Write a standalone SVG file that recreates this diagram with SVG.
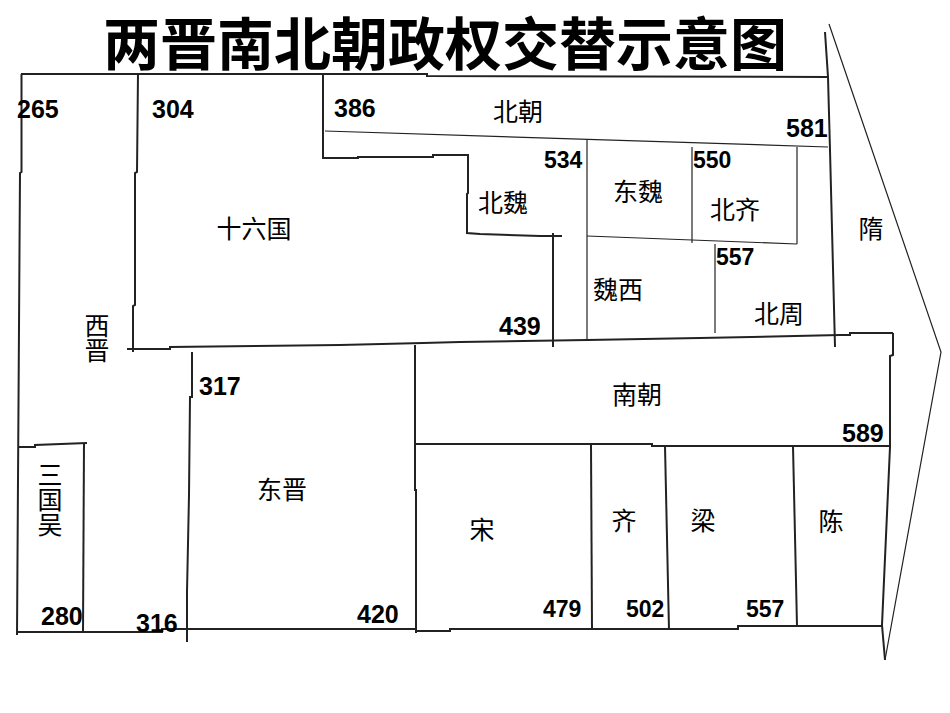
<svg xmlns="http://www.w3.org/2000/svg" width="950" height="713" viewBox="0 0 950 713">
<style>
.thick{fill:none;stroke:#222;stroke-width:2;stroke-linejoin:miter}
.thin{fill:none;stroke:#222;stroke-width:1.2}
.num{font-family:"Liberation Sans",Arial,sans-serif;font-weight:bold;fill:#000}
.n25{font-size:25px}
.n23{font-size:23px}
.cjk{font-family:"Noto Sans CJK SC","Noto Sans CJK TC",sans-serif;font-size:25px;fill:#000;text-anchor:middle}
.vert{writing-mode:vertical-rl;text-anchor:middle}
.title{font-family:"Noto Sans CJK SC","Noto Sans CJK TC",sans-serif;font-size:57px;font-weight:bold;fill:#000;text-anchor:middle}
</style>
<rect width="950" height="713" fill="#fff"/>
<text class="title" x="445" y="65">两晋南北朝政权交替示意图</text>

<g id="connectors">
  <path class="thick" d="M21,74 L427,74 L427,76 L828,77"/>
  <path class="thick" d="M21.5,74 L21.5,172 L20,173 L17,635"/>
  <path class="thick" d="M138,73 L137,172 L135,173 L135,305 L133,306 L133,352"/>
  <path class="thick" d="M127,349 L170,349 L170,347 L255,346 L340,345 L423,343 L460,342 L587,340 L700,338 L840,335 L850,335 L850,333 L893,333"/>
  <path class="thick" d="M323,75 L323,158 L358,158 L358,157 L433,157 L433,155 L468,155 L468,193 L467,194 L467,233 L480,234 L540,236 L562,236"/>
  <path class="thick" d="M553,233 L553,347"/>
  <path class="thick" d="M825,32 L828,77 L830,150 L835,347"/>
  <path class="thick" d="M192,352 L192,397 L190,397 L189,495 L187,592 L187,642"/>
  <path class="thick" d="M415,345 L415,490 L416,490 L416,633"/>
  <path class="thick" d="M18,447 L35,447 L35,445 L87,443"/>
  <path class="thick" d="M84,443 L83,632"/>
  <path class="thick" d="M17,632 L162,632 L162,629 L415,629"/>
  <path class="thick" d="M415,631 L450,631 L450,629 L738,629 L738,626 L882,626"/>
  <path class="thick" d="M415,444 L652,444 L652,446 L890,446"/>
  <path class="thick" d="M893,333 L893,355 L890,356 L890,447 L882,625 L885,660"/>
  <path class="thick" d="M591,444 L592,628"/>
  <path class="thick" d="M665,446 L669,630"/>
  <path class="thick" d="M793,446 L797,626"/>
  <path class="thin" d="M325,131 L828,147"/>
  <path class="thin" d="M587,139 L587,340"/>
  <path class="thin" d="M692,147 L692,243"/>
  <path class="thin" d="M587,236 L797,244"/>
  <path class="thin" d="M797,147 L797,244"/>
  <path class="thin" d="M715,244 L715,333"/>
  <path class="thin" d="M829,24 L941,352 L885,660"/>
</g>

<g id="xijin">
  <text class="cjk vert" x="97" y="337.5">西晋</text>
  <text class="num n25" x="17" y="118">265</text>
</g>
<g id="sanguowu">
  <text class="cjk vert" x="50" y="499.5">三国吴</text>
  <text class="num n25" x="41" y="625">280</text>
</g>
<g id="shiliuguo">
  <text class="cjk" x="254" y="237.5">十六国</text>
  <text class="num n25" x="152" y="118">304</text>
</g>
<g id="dongjin">
  <text class="cjk" x="282" y="498.5">东晋</text>
  <text class="num n25" x="199" y="395">317</text>
  <text class="num n25" x="136" y="632">316</text>
  <text class="num n25" x="357" y="623">420</text>
</g>
<g id="beichao">
  <text class="cjk" x="518" y="120.5">北朝</text>
  <text class="num n25" x="334" y="117">386</text>
  <text class="num n25" x="786" y="137">581</text>
</g>
<g id="beiwei">
  <text class="cjk" x="503" y="211.5">北魏</text>
  <text class="num n23" x="544" y="168">534</text>
  <text class="num n25" x="499" y="335">439</text>
</g>
<g id="dongwei">
  <text class="cjk" x="638" y="200.5">东魏</text>
  <text class="num n23" x="693" y="168">550</text>
</g>
<g id="beiqi">
  <text class="cjk" x="735" y="218.5">北齐</text>
</g>
<g id="xiwei">
  <text class="cjk" x="618" y="298.5">魏西</text>
  <text class="num n23" x="716" y="265">557</text>
</g>
<g id="beizhou">
  <text class="cjk" x="779" y="322.5">北周</text>
</g>
<g id="sui">
  <text class="cjk" x="871" y="237.5">隋</text>
</g>
<g id="nanchao">
  <text class="cjk" x="637" y="403.5">南朝</text>
  <text class="num n25" x="842" y="442">589</text>
</g>
<g id="song">
  <text class="cjk" x="482" y="538.5">宋</text>
  <text class="num n23" x="543" y="617">479</text>
</g>
<g id="qi">
  <text class="cjk" x="624" y="529.5">齐</text>
  <text class="num n23" x="626" y="617">502</text>
</g>
<g id="liang">
  <text class="cjk" x="703" y="529.5">梁</text>
  <text class="num n23" x="746" y="617">557</text>
</g>
<g id="chen">
  <text class="cjk" x="831" y="530.5">陈</text>
</g>
</svg>
